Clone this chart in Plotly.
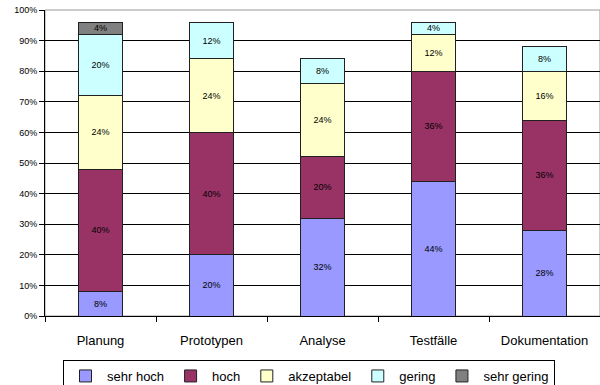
import plotly.graph_objects as go

categories = ["Planung", "Prototypen", "Analyse", "Testfälle", "Dokumentation"]
series_names = ["sehr hoch", "hoch", "akzeptabel", "gering", "sehr gering"]
sehr_hoch = [8, 20, 32, 44, 28]
hoch = [40, 40, 20, 36, 36]
akzeptabel = [24, 24, 24, 12, 16]
gering = [20, 12, 8, 4, 8]
sehr_gering = [4, 0, 0, 0, 0]
colors = ["#9999FF", "#993366", "#FFFFCC", "#CCFFFF", "#808080"]

values = [sehr_hoch, hoch, akzeptabel, gering, sehr_gering]

fig = go.Figure()
for name, vals, col in zip(series_names, values, colors):
    fig.add_trace(go.Bar(
        x=categories, y=vals, name=name,
        marker=dict(color=col, line=dict(color="#202020", width=1)),
        text=[f"{v}%" if v > 0 else "" for v in vals],
        textposition="inside", insidetextanchor="middle", textangle=0,
        constraintext="none",
        textfont=dict(family="Arial, Liberation Sans", size=9, color="#000000"),
    ))

fig.update_layout(
    barmode="stack", bargap=0.6,
    width=600, height=385,
    margin=dict(l=45, r=0, t=10, b=69, autoexpand=False),
    paper_bgcolor="white", plot_bgcolor="white",
    font=dict(family="Arial, Liberation Sans", color="#000000"),
    showlegend=True,
    legend=dict(
        orientation="h", x=18 / 555, xanchor="left",
        y=-44 / 306, yanchor="top",
        bordercolor="#000000", borderwidth=1,
        font=dict(size=13), itemwidth=33, traceorder="normal",
    ),
    shapes=[dict(type="rect", xref="paper", yref="paper", x0=0, x1=1, y0=0, y1=1,
                 line=dict(color="#999999", width=1), layer="below")],
)
fig.update_xaxes(
    showline=True, linecolor="#000000", linewidth=1, automargin=False,
    ticks="outside", tickson="boundaries", ticklen=5, tickcolor="#000000",
    tickfont=dict(size=13), ticklabelstandoff=12, showgrid=False,
)
fig.update_yaxes(
    range=[0, 100], dtick=10, ticksuffix="%", automargin=False,
    showline=True, linecolor="#000000", linewidth=1,
    ticks="outside", ticklen=5, tickcolor="#000000",
    tickfont=dict(size=9), showgrid=True, gridcolor="#000000", gridwidth=1,
    zeroline=False,
)
fig.write_html("out.html", config={"displayModeBar": False},
               post_script="document.body.style.margin='0';")
